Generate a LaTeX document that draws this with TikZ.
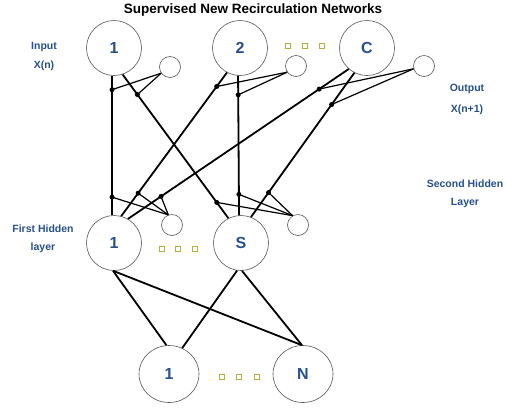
\documentclass[tikz,border=0pt]{standalone}
\usepackage{fontspec}
\setmainfont{Liberation Sans}
\usetikzlibrary{shapes.geometric}
\definecolor{txtblue}{RGB}{38,80,140}
\definecolor{sqolive}{RGB}{180,175,60}
\definecolor{ringgray}{RGB}{85,85,85}
\begin{document}
\begin{tikzpicture}[x=1pt,y=-1pt,
  big/.style={circle,draw=ringgray,line width=0.6pt,minimum size=55pt,inner sep=0pt,font=\bfseries\fontsize{16}{16}\selectfont,text=txtblue},
  bot/.style={ellipse,draw=ringgray,line width=0.6pt,minimum width=60pt,minimum height=57pt,inner sep=0pt,font=\bfseries\fontsize{16}{16}\selectfont,text=txtblue},
  small/.style={circle,draw=ringgray,line width=0.6pt,minimum size=21pt,inner sep=0pt},
  sq/.style={rectangle,draw=sqolive,fill=white,line width=0.9pt,minimum size=4.5pt,inner sep=0pt},
  lab/.style={font=\bfseries\fontsize{10.5}{11}\selectfont,text=txtblue},
  conn/.style={line width=1.8pt,black},
  thin/.style={line width=1.2pt,black},
  dotc/.style={circle,fill=black,inner sep=0pt,minimum size=5pt}
]
\useasboundingbox (0,0) rectangle (506,408);

% title
\node[font=\bfseries\fontsize{13.5}{14}\selectfont] (title) at (253,10) {Supervised New Recirculation Networks};

% top layer
\node[big] (t1) at (114,48) {1};
\node[big] (t2) at (240,48) {2};
\node[big] (tC) at (367,48) {C};
\node[small] (s1) at (170,67) {};
\node[small] (s2) at (296,66) {};
\node[small] (s3) at (424,66) {};
\node[sq] (q1) at (288,46) {};
\node[sq] (q2) at (305,46) {};
\node[sq] (q3) at (322,46) {};

% middle layer
\node[big] (m1) at (114,243) {1};
\node[big] (S) at (241,243) {S};
\node[small] (sm1) at (172,225) {};
\node[small] (sm2) at (298,225) {};
\node[sq] (q4) at (162,249) {};
\node[sq] (q5) at (178,249) {};
\node[sq] (q6) at (195,249) {};

% bottom layer
\node[bot] (b1) at (169,374) {1};
\node[bot] (bN) at (303,374) {N};
\node[sq] (q7) at (222,377) {};
\node[sq] (q8) at (239,377) {};
\node[sq] (q9) at (257,377) {};

% labels
\node[lab] (inp) at (44,47) {Input};
\node[lab] (xn) at (44,66) {X(n)};
\node[lab] (outp) at (467,89) {Output};
\node[lab] (xn1) at (467,110) {X(n+1)};
\node[lab] (sh) at (465,184) {Second Hidden};
\node[lab] (shl) at (465,203) {Layer};
\node[lab] (fh) at (43,229) {First Hidden};
\node[lab] (fhl) at (43,248) {layer};

% main connectors
\draw[conn] (t1.-94) -- (m1.94) coordinate[pos=0.10] (a1) coordinate[pos=0.87] (a2);
\draw[conn] (t1.-72) -- (S.117) coordinate[pos=0.14] (b1d) coordinate[pos=0.89] (b2d);
\draw[conn] (t2.-118) -- (m1.75) coordinate[pos=0.097] (c1) coordinate[pos=0.84] (c2);
\draw[conn] (t2.-94) -- (S.94) coordinate[pos=0.137] (e1) coordinate[pos=0.85] (e2);
\draw[conn] (tC.-131) -- (m1.60) coordinate[pos=0.134] (f1) coordinate[pos=0.85] (f2);
\draw[conn] (tC.-117) -- (S.69) coordinate[pos=0.22] (g1) coordinate[pos=0.83] (g2);

% connectors to small circles
\draw[thin] (a1) -- (s1.215);
\draw[thin] (b1d) -- (s1.215);
\draw[thin] (c1) -- (s2.215);
\draw[thin] (e1) -- (s2.215);
\draw[thin] (f1) -- (s3.195);
\draw[thin] (g1) -- (s3.195);
\draw[thin] (a2) -- (sm1.110);
\draw[thin] (c2) -- (sm1.110);
\draw[thin] (f2) -- (sm1.110);
\draw[thin] (b2d) -- (sm2.120);
\draw[thin] (e2) -- (sm2.120);
\draw[thin] (g2) -- (sm2.120);

% dots
\foreach \p in {a1,a2,b1d,b2d,c1,c2,e1,e2,f1,f2,g1,g2}
  \node[dotc] at (\p) {};

% bottom connectors
\draw[conn] (m1.-92) -- (b1.95);
\draw[conn] (m1.-92) -- (bN.92);
\draw[conn] (S.-98) -- (b1.63);
\draw[conn] (S.-88) -- (bN.92);
\end{tikzpicture}
\end{document}
